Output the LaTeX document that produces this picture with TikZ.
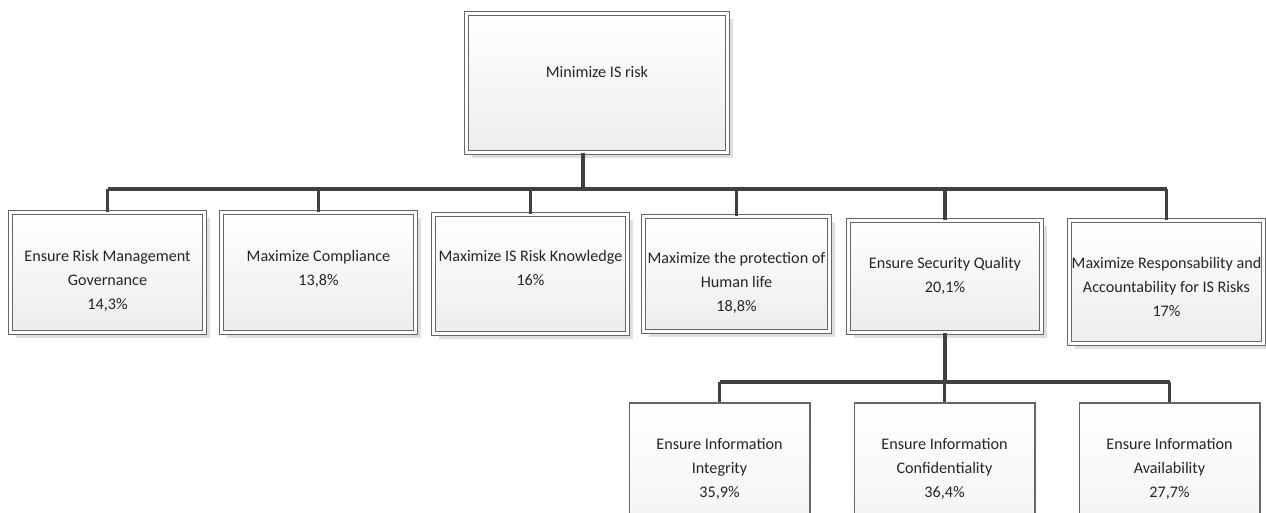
\documentclass[tikz,border=0pt]{standalone}
\usepackage{fontspec}
\setmainfont{Carlito}
\usetikzlibrary{shadows}

\begin{document}
\begin{tikzpicture}[x=0.02cm, y=-0.02cm]

\tikzset{
  goal/.style={rectangle, draw=black!60, line width=0.5pt,
    double=white, double distance=1.6pt,
    top color=white, bottom color=black!7,
    drop shadow={shadow xshift=3pt, shadow yshift=-3pt,
      fill=black!25, opacity=0.5}},
  subgoal/.style={rectangle, draw=black!60, line width=0.6pt,
    top color=white, bottom color=black!7},
  lbl/.style={anchor=base, align=center, inner sep=0pt,
    font=\fontsize{9.2}{13.6}\selectfont, text=black!85},
  link/.style={line width=1.8pt, draw=black!75}
}

\useasboundingbox (0,0) rectangle (1266,513);
\clip (0,0) rectangle (1266,513);

% ---- ROOT ----
\node (root) [goal, minimum width=5.22cm, minimum height=2.78cm] at (597,83) {};
\node (roottxt) [lbl] at (597,78) {Minimize IS risk};

% ---- FIRST LEVEL ----
\node (gov)  [goal, minimum width=3.88cm, minimum height=2.40cm] at (107.5,272.5) {};
\node (comp) [goal, minimum width=3.88cm, minimum height=2.40cm] at (318.5,272.5) {};
\node (know) [goal, minimum width=3.88cm, minimum height=2.38cm] at (530.5,274) {};
\node (life) [goal, minimum width=3.72cm, minimum height=2.30cm] at (736.5,274) {};
\node (qual) [goal, minimum width=3.86cm, minimum height=2.24cm] at (945,276.5) {};
\node (resp) [goal, minimum width=3.88cm, minimum height=2.46cm] at (1166.5,282) {};

% base anchor sits on the last line
\node (govtxt)  [lbl] at (107.5,309) {Ensure Risk Management\\Governance\\14,3\%};
\node (comptxt) [lbl] at (318.5,285) {Maximize Compliance\\13,8\%};
\node (knowtxt) [lbl] at (530.5,285) {Maximize IS Risk Knowledge\\16\%};
\node (lifetxt) [lbl] at (736.5,311) {Maximize the protection of\\Human life\\18,8\%};
\node (qualtxt) [lbl] at (945,292)   {Ensure Security Quality\\20,1\%};
\node (resptxt) [lbl] at (1166.5,316) {Maximize Responsability and\\Accountability for IS Risks\\17\%};

% ---- SECOND LEVEL ----
\node (integ) [subgoal, minimum width=3.62cm, minimum height=3.94cm] at (719.5,501.5) {};
\node (conf)  [subgoal, minimum width=3.62cm, minimum height=3.94cm] at (944.5,501.5) {};
\node (avail) [subgoal, minimum width=3.62cm, minimum height=3.94cm] at (1169.5,501.5) {};

\node (integtxt) [lbl] at (719.5,497)  {Ensure Information\\Integrity\\35,9\%};
\node (conftxt)  [lbl] at (944.5,497)  {Ensure Information\\Confidentiality\\36,4\%};
\node (availtxt) [lbl] at (1169.5,497) {Ensure Information\\Availability\\27,7\%};

% ---- CONNECTORS ----
\coordinate (bus) at (583,189);
\coordinate (subbus) at (945,382);

\draw[link] (bus |- root.south) -- (bus);
\draw[link] (gov.north |- bus) -- (resp.north |- bus);
\foreach \n in {gov, comp, know, life, qual, resp}
  \draw[link] (\n.north |- bus) -- (\n.north);

\draw[link] (qual.south) -- (subbus);
\draw[link] (integ.north |- subbus) -- (avail.north |- subbus);
\foreach \n in {integ, conf, avail}
  \draw[link] (\n.north |- subbus) -- (\n.north);

\end{tikzpicture}
\end{document}
